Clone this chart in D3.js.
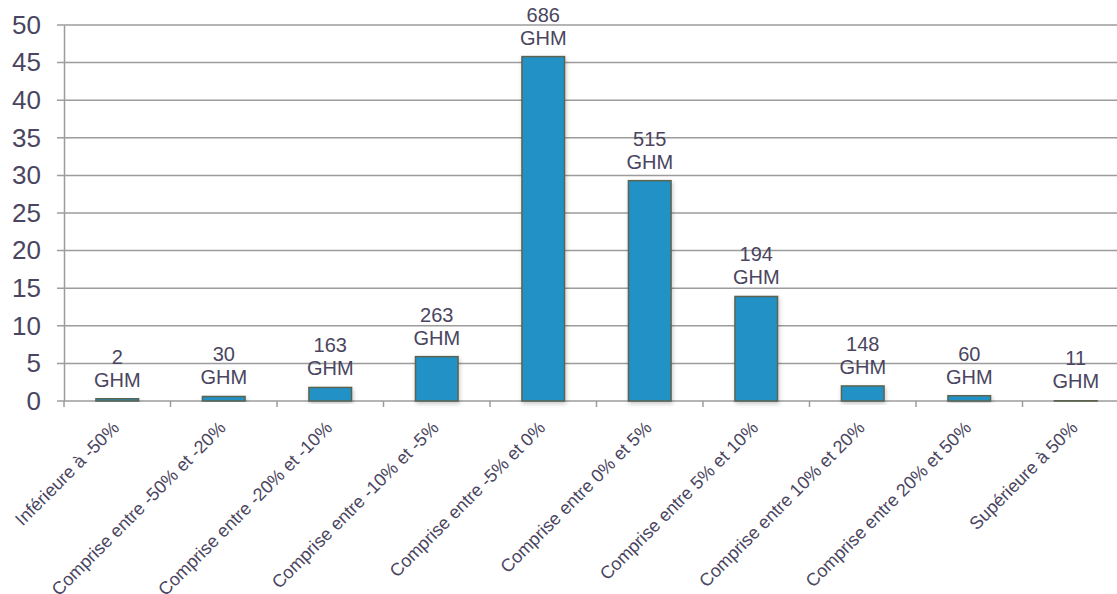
<!DOCTYPE html>
<html><head><meta charset="utf-8">
<script src="https://cdn.jsdelivr.net/npm/d3@7"></script>
<style>body{margin:0;background:#fff;} svg{display:block;font-family:"Liberation Sans",Arial,sans-serif;}</style>
</head><body>
<script>
const categories = ["Inférieure à -50%","Comprise entre -50% et -20%","Comprise entre -20% et -10%","Comprise entre -10% et -5%","Comprise entre -5% et 0%","Comprise entre 0% et 5%","Comprise entre 5% et 10%","Comprise entre 10% et 20%","Comprise entre 20% et 50%","Supérieure à 50%"];
const values = [0.3, 0.6, 1.8, 5.9, 45.8, 29.3, 13.9, 2.0, 0.7, 0.1];
const counts = ["2","30","163","263","686","515","194","148","60","11"];
const yTicks = [0,5,10,15,20,25,30,35,40,45,50];

const W = 1117, H = 594;
const m = {left:64, top:25, bottom:193};
const plotW = 1065; // extends beyond the window on the right
const svg = d3.select("body").append("svg").attr("width",W).attr("height",H);
const defs = svg.append("defs");
const f = defs.append("filter").attr("id","sh").attr("x","-20%").attr("y","-20%").attr("width","140%").attr("height","140%");
f.append("feDropShadow").attr("dx",1).attr("dy",2).attr("stdDeviation",2).attr("flood-color","#000").attr("flood-opacity",0.22);

const x = d3.scaleBand().domain(categories).range([m.left, m.left+plotW]).paddingInner(0.6).paddingOuter(0.3);
const y = d3.scaleLinear().domain([0,50]).range([H-m.bottom, m.top]);
const textCol = "#4a4560", gridCol = "#9c9c9c";

// grid
svg.append("g").selectAll("line").data(yTicks).join("line")
  .attr("x1",m.left-7).attr("x2",W).attr("y1",d=>y(d)).attr("y2",d=>y(d))
  .attr("stroke",gridCol).attr("stroke-width",1.5);

// y axis
const ya = svg.append("g").attr("transform",`translate(${m.left},0)`)
  .call(d3.axisLeft(y).tickValues(yTicks).tickSize(0).tickPadding(23));
ya.select(".domain").attr("stroke",gridCol).attr("stroke-width",1.5);
ya.selectAll("text").attr("fill",textCol).attr("font-size",26).attr("font-family","Liberation Sans, Arial, sans-serif");

// x axis boundary ticks
const step = x.step();
const bounds = d3.range(categories.length+1).map(i=>m.left+i*step);
svg.append("g").selectAll("line").data(bounds).join("line")
  .attr("x1",d=>d).attr("x2",d=>d).attr("y1",y(0)).attr("y2",y(0)+6)
  .attr("stroke",gridCol).attr("stroke-width",1.5);

// bars
svg.append("g").selectAll("rect").data(values).join("rect")
  .attr("x",(d,i)=>x(categories[i])).attr("width",x.bandwidth())
  .attr("y",d=>y(d)).attr("height",d=>y(0)-y(d))
  .attr("fill","#2191c6").attr("stroke","#5c6450").attr("stroke-width",1.5)
  .attr("filter","url(#sh)");

// data labels
const lbl = svg.append("g").attr("fill",textCol).attr("font-size",20).attr("text-anchor","middle");
values.forEach((v,i)=>{
  const cx = x(categories[i]) + x.bandwidth()/2;
  const t = lbl.append("text").attr("x",cx).attr("y",y(v)-12);
  t.append("tspan").attr("x",cx).attr("dy",-23).text(counts[i]);
  t.append("tspan").attr("x",cx).attr("dy",23).text("GHM");
});

// x labels
svg.append("g").selectAll("text").data(categories).join("text")
  .attr("transform",d=>`translate(${x(d)+x.bandwidth()/2+3},${y(0)+28}) rotate(-45)`)
  .attr("text-anchor","end").attr("fill",textCol).attr("font-size",18)
  .text(d=>d);
</script>
</body></html>
